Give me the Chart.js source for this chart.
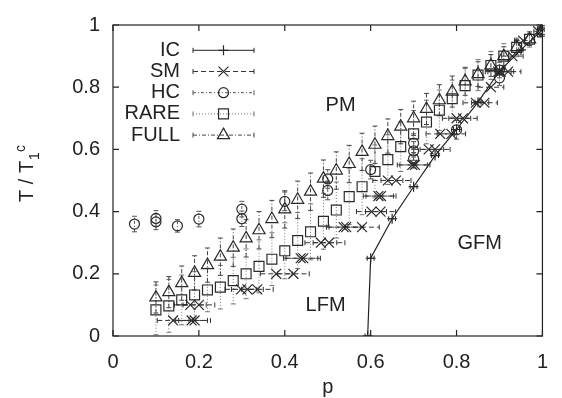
<!DOCTYPE html>
<html>
<head>
<meta charset="utf-8">
<script src="https://cdn.jsdelivr.net/npm/chart.js@4"></script>
<style>
  body { margin: 0; background: #fff; }
  #wrap { width: 562px; height: 398px; }
</style>
</head>
<body>
<div id="wrap"><canvas id="phaseChart"></canvas></div>
<script>
// Values: p on x, T/T1c on y, plus error half-widths
const icP   = [0.593, 0.60, 0.65, 0.70, 0.75, 0.80, 0.85, 0.90, 0.95, 1.00];
const icT   = [0.0, 0.25, 0.377, 0.48, 0.58, 0.664, 0.752, 0.852, 0.92, 0.985];
const icErr = [0.006, 0.008, 0.008, 0.008, 0.008, 0.007, 0.007, 0.006, 0.005, 0.004];

const smP   = [0.14, 0.183, 0.19, 0.18, 0.20, 0.298, 0.313, 0.336, 0.38, 0.42, 0.437, 0.443,
               0.484, 0.503, 0.537, 0.543, 0.58, 0.602, 0.623, 0.618, 0.624, 0.64, 0.659,
               0.697, 0.703, 0.735, 0.75, 0.762, 0.788, 0.80, 0.815, 0.845, 0.865, 0.88,
               0.897, 0.903, 0.92, 0.93, 0.955, 0.99];
const smT   = [0.05, 0.05, 0.05, 0.10, 0.10, 0.15, 0.15, 0.15, 0.20, 0.20, 0.25, 0.25,
               0.30, 0.30, 0.35, 0.35, 0.35, 0.40, 0.40, 0.45, 0.45, 0.50, 0.50,
               0.55, 0.55, 0.60, 0.60, 0.65, 0.65, 0.70, 0.70, 0.75, 0.75, 0.80,
               0.85, 0.85, 0.85, 0.90, 0.95, 0.98];
const smErr = [0.037, 0.037, 0.037, 0.037, 0.037, 0.037, 0.037, 0.037, 0.037, 0.037, 0.04, 0.04,
               0.037, 0.037, 0.04, 0.04, 0.04, 0.035, 0.035, 0.035, 0.035, 0.035, 0.035,
               0.035, 0.035, 0.035, 0.035, 0.033, 0.033, 0.033, 0.033, 0.03, 0.03, 0.03,
               0.03, 0.03, 0.03, 0.025, 0.02, 0.01];

const hcP   = [0.05, 0.10, 0.10, 0.15, 0.20, 0.30, 0.30, 0.40, 0.50, 0.50, 0.60, 0.70, 0.70, 0.70, 0.80, 0.90, 0.90, 1.00];
const hcT   = [0.36, 0.367, 0.378, 0.354, 0.376, 0.377, 0.408, 0.433, 0.468, 0.505, 0.535, 0.57, 0.595, 0.62, 0.663, 0.83, 0.855, 0.98];
const hcErr = [0.025, 0.025, 0.025, 0.02, 0.025, 0.025, 0.025, 0.03, 0.03, 0.03, 0.03, 0.03, 0.03, 0.03, 0.03, 0.025, 0.025, 0.01];

const rareP = [0.10, 0.13, 0.16, 0.19, 0.22, 0.25, 0.28, 0.31, 0.34, 0.37, 0.40, 0.43, 0.46, 0.49, 0.52, 0.55,
               0.58, 0.61, 0.64, 0.67, 0.70, 0.73, 0.76, 0.79, 0.82, 0.85, 0.88, 0.91, 0.94, 0.97, 1.00];
const rareT = [0.084, 0.097, 0.116, 0.132, 0.148, 0.157, 0.178, 0.20, 0.224, 0.247, 0.274, 0.307, 0.335, 0.369, 0.405, 0.448,
               0.48, 0.529, 0.567, 0.609, 0.65, 0.688, 0.726, 0.763, 0.805, 0.839, 0.87, 0.90, 0.928, 0.954, 0.978];
const rareErr = [0.08, 0.085, 0.08, 0.075, 0.07, 0.07, 0.075, 0.08, 0.085, 0.085, 0.09, 0.09, 0.09, 0.09, 0.09, 0.09,
                 0.09, 0.085, 0.08, 0.08, 0.075, 0.07, 0.065, 0.06, 0.055, 0.05, 0.045, 0.04, 0.03, 0.025, 0.015];

const fullP = rareP;
const fullT = [0.124, 0.141, 0.17, 0.203, 0.228, 0.255, 0.284, 0.314, 0.34, 0.376, 0.407, 0.438, 0.464, 0.506, 0.532, 0.553,
               0.592, 0.615, 0.643, 0.673, 0.70, 0.73, 0.758, 0.786, 0.819, 0.842, 0.87, 0.90, 0.929, 0.954, 0.983];
const fullErr = [0.05, 0.05, 0.055, 0.055, 0.055, 0.06, 0.06, 0.06, 0.06, 0.06, 0.06, 0.06, 0.06, 0.06, 0.06, 0.06,
                 0.06, 0.06, 0.055, 0.055, 0.055, 0.05, 0.05, 0.05, 0.045, 0.04, 0.035, 0.03, 0.025, 0.02, 0.015];

const regionNames = ['PM', 'GFM', 'LFM'];
const regionP = [0.53, 0.854, 0.495];
const regionT = [0.742, 0.299, 0.097];

const tickValues = [0, 0.2, 0.4, 0.6, 0.8, 1];

const FONT = '"Liberation Sans", Arial, Helvetica, sans-serif';
const INK = '#222';

function pts(xs, ys) {
    return xs.map((v, i) => ({x: v, y: ys[i]}));
}

// gnuplot style labels: 0, 0.2, ... 1
function tickText(v) {
    return String(Math.round(v * 10) / 10);
}

// error bars drawn through the chart's own scales
const errorBars = {
    id: 'errorBars',
    beforeDatasetsDraw(chart) {
        const {ctx, chartArea: a, scales: {x, y}} = chart;
        ctx.save();
        ctx.beginPath();
        ctx.rect(a.left, a.top - 4, a.right - a.left + 4, a.bottom - a.top + 4);
        ctx.clip();
        chart.data.datasets.forEach(ds => {
            ctx.strokeStyle = ds.errColor;
            ctx.lineWidth = 1;
            ds.data.forEach((pt, j) => {
                const e = ds.err[j];
                const cx = x.getPixelForValue(pt.x);
                const cy = y.getPixelForValue(pt.y);
                ctx.setLineDash(ds.errDash);
                ctx.beginPath();
                if (ds.errAxis === 'x') {
                    const x0 = x.getPixelForValue(pt.x - e), x1 = x.getPixelForValue(pt.x + e);
                    ctx.moveTo(x0, cy); ctx.lineTo(x1, cy);
                    ctx.stroke();
                    ctx.setLineDash([]);
                    ctx.beginPath();
                    ctx.moveTo(x0, cy - 2.5); ctx.lineTo(x0, cy + 2.5);
                    ctx.moveTo(x1, cy - 2.5); ctx.lineTo(x1, cy + 2.5);
                    ctx.stroke();
                } else {
                    const y0 = y.getPixelForValue(pt.y - e), y1 = y.getPixelForValue(pt.y + e);
                    ctx.moveTo(cx, y0); ctx.lineTo(cx, y1);
                    ctx.stroke();
                    ctx.setLineDash([]);
                    ctx.beginPath();
                    ctx.moveTo(cx - 2.5, y0); ctx.lineTo(cx + 2.5, y0);
                    ctx.moveTo(cx - 2.5, y1); ctx.lineTo(cx + 2.5, y1);
                    ctx.stroke();
                }
            });
        });
        ctx.restore();
    }
};

// border box with inward ticks on all four sides, titles, key and region names
const decorations = {
    id: 'decorations',
    afterDraw(chart) {
        const {ctx, chartArea: a, scales: {x, y}} = chart;
        ctx.save();
        ctx.strokeStyle = INK;
        ctx.lineWidth = 1.2;
        ctx.strokeRect(a.left, a.top, a.right - a.left, a.bottom - a.top);
        ctx.beginPath();
        tickValues.forEach(v => {
            const px = x.getPixelForValue(v);
            ctx.moveTo(px, a.bottom); ctx.lineTo(px, a.bottom - 6);
            ctx.moveTo(px, a.top); ctx.lineTo(px, a.top + 6);
            const py = y.getPixelForValue(v);
            ctx.moveTo(a.left, py); ctx.lineTo(a.left + 6, py);
            ctx.moveTo(a.right, py); ctx.lineTo(a.right - 6, py);
        });
        ctx.stroke();

        ctx.fillStyle = INK;
        ctx.font = '20px ' + FONT;
        ctx.textAlign = 'center';
        ctx.textBaseline = 'middle';
        regionNames.forEach((name, i) => {
            ctx.fillText(name, x.getPixelForValue(regionP[i]), y.getPixelForValue(regionT[i]));
        });

        // x title
        ctx.textBaseline = 'alphabetic';
        ctx.fillText('p', (a.left + a.right) / 2, 393);

        // y title: T / T_1^c
        ctx.save();
        ctx.translate(33, 202);
        ctx.rotate(-Math.PI / 2);
        ctx.textAlign = 'left';
        ctx.font = '20px ' + FONT;
        const main = 'T / T';
        ctx.fillText(main, 0, 0);
        let w = ctx.measureText(main).width;
        ctx.font = '14px ' + FONT;
        ctx.fillText('1', w + 1, 6);
        w += ctx.measureText('1').width + 1;
        ctx.fillText('c', w, -8);
        ctx.restore();

        // key
        chart.data.datasets.forEach((ds, i) => {
            const yy = a.top + 25.3 + i * 21.2;
            ctx.font = '20px ' + FONT;
            ctx.textAlign = 'right';
            ctx.textBaseline = 'middle';
            ctx.fillStyle = INK;
            ctx.fillText(ds.label, a.left + 67, yy);
            const x0 = a.left + 80, x1 = a.left + 141;
            ctx.strokeStyle = ds.errColor;
            ctx.lineWidth = 1;
            ctx.setLineDash(ds.errDash);
            ctx.beginPath();
            ctx.moveTo(x0, yy); ctx.lineTo(x1, yy);
            ctx.stroke();
            ctx.setLineDash([]);
            ctx.beginPath();
            ctx.moveTo(x0, yy - 2.5); ctx.lineTo(x0, yy + 2.5);
            ctx.moveTo(x1, yy - 2.5); ctx.lineTo(x1, yy + 2.5);
            ctx.stroke();
            ctx.strokeStyle = ds.pointBorderColor;
            ctx.fillStyle = 'rgba(0,0,0,0)';
            ctx.lineWidth = ds.pointBorderWidth;
            Chart.helpers.drawPoint(ctx, {
                pointStyle: ds.pointStyle, radius: ds.pointRadius,
                borderWidth: ds.pointBorderWidth, rotation: 0
            }, (x0 + x1) / 2, yy);
        });
        ctx.restore();
    }
};

function series(label, xs, ys, errs, extra) {
    return Object.assign({
        label: label,
        data: pts(xs, ys),
        err: errs,
        errAxis: 'y',
        errColor: '#555',
        errDash: [],
        showLine: false,
        pointBackgroundColor: 'rgba(0,0,0,0)',
        pointBorderColor: '#2a2a2a',
        pointBorderWidth: 1.2,
        pointRadius: 6,
        pointHoverRadius: 6
    }, extra);
}

const ctx = document.getElementById('phaseChart').getContext('2d');
new Chart(ctx, {
    type: 'scatter',
    data: {
        datasets: [
            series('IC', icP, icT, icErr, {
                errAxis: 'x', errColor: '#222', showLine: true,
                borderColor: '#222', borderWidth: 1.2, pointStyle: 'cross', pointRadius: 5
            }),
            series('SM', smP, smT, smErr, {
                errAxis: 'x', errColor: '#333', errDash: [5, 3], pointStyle: 'crossRot', pointRadius: 7
            }),
            series('HC', hcP, hcT, hcErr, {
                errColor: '#555', errDash: [3, 2, 1, 2], pointStyle: 'circle', pointRadius: 5
            }),
            series('RARE', rareP, rareT, rareErr, {
                errColor: '#777', errDash: [1, 2], pointStyle: 'rect', pointRadius: 7
            }),
            series('FULL', fullP, fullT, fullErr, {
                errColor: '#444', errDash: [4, 2, 1, 2], pointStyle: 'triangle', pointRadius: 7
            })
        ]
    },
    options: {
        responsive: true,
        maintainAspectRatio: false,
        animation: false,
        events: [],
        layout: { padding: { top: 18, right: 11, left: 0, bottom: 0 } },
        plugins: {
            legend: { display: false },
            tooltip: { enabled: false }
        },
        scales: {
            x: {
                type: 'linear',
                min: 0, max: 1,
                grid: { display: false, drawTicks: false },
                border: { display: false },
                ticks: { stepSize: 0.2, padding: 14, color: INK, font: { family: FONT, size: 20 }, callback: tickText },
                afterFit(scale) { scale.height = 62; }
            },
            y: {
                type: 'linear',
                min: 0, max: 1,
                grid: { display: false, drawTicks: false },
                border: { display: false },
                ticks: { stepSize: 0.2, padding: 13, color: INK, font: { family: FONT, size: 20 }, callback: tickText },
                afterFit(scale) { scale.width = 113; }
            }
        }
    },
    plugins: [errorBars, decorations]
});
</script>
</body>
</html>
